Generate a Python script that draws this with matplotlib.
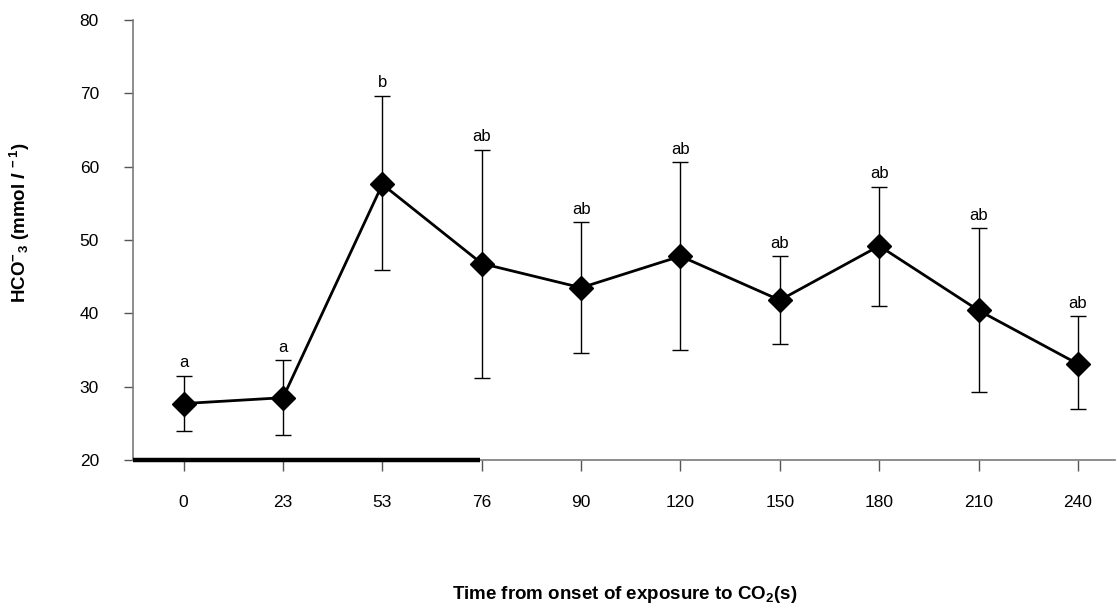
import matplotlib
matplotlib.use("Agg")
import matplotlib.pyplot as plt

plt.rcParams['font.family'] = ['Liberation Sans', 'DejaVu Sans']
plt.rcParams['mathtext.fontset'] = 'custom'
plt.rcParams['mathtext.rm'] = 'Liberation Sans:bold'
plt.rcParams['mathtext.it'] = 'Liberation Sans:bold:italic'
plt.rcParams['mathtext.bf'] = 'Liberation Sans:bold'

categories = ['0', '23', '53', '76', '90', '120', '150', '180', '210', '240']
means = [27.7, 28.5, 57.6, 46.8, 43.5, 47.8, 41.8, 49.2, 40.4, 33.1]
upper = [31.5, 33.6, 69.7, 62.3, 52.4, 60.6, 47.8, 57.3, 51.6, 39.6]
lower = [23.9, 23.4, 45.9, 31.2, 34.6, 35.0, 35.8, 41.0, 29.3, 26.9]
letters = ['a', 'a', 'b', 'ab', 'ab', 'ab', 'ab', 'ab', 'ab', 'ab']
exposure_end = '76'

fig = plt.figure(figsize=(11.17, 6.08), dpi=100)
ax = fig.add_axes([0.119, 0.2434, 0.879, 0.7236])

x = list(range(len(categories)))
yerr = [[m - l for m, l in zip(means, lower)], [u - m for m, u in zip(means, upper)]]
ax.errorbar(x, means, yerr=yerr, fmt='none', ecolor='black', elinewidth=1.0,
            capsize=6, capthick=1.0, zorder=2)
ax.plot(x, means, color='black', linewidth=2.0, marker='D', markersize=12.5,
        markerfacecolor='black', markeredgecolor='black', zorder=3)

for xi, u, lt in zip(x, upper, letters):
    ax.annotate(lt, (xi, u), xytext=(0, 4), textcoords='offset points',
                ha='center', va='bottom', fontsize=12)

ax.set_xlim(-0.51, 9.37)
ax.set_ylim(20, 80)
ax.set_yticks(range(20, 81, 10))
ax.set_xticks(x)
ax.set_xticklabels(categories)

# exposure bar
ax.plot([-0.51, categories.index(exposure_end) - 0.02], [20, 20], color='black',
        linewidth=3.2, solid_capstyle='butt', clip_on=False, zorder=4)

for s in ['top', 'right']:
    ax.spines[s].set_visible(False)
for s in ['left', 'bottom']:
    ax.spines[s].set_color('#7a7a7a')
    ax.spines[s].set_linewidth(1.2)

ax.tick_params(axis='y', direction='out', length=6.5, width=1, color='#555555',
               labelsize=12.5, pad=18)
ax.tick_params(axis='x', direction='out', length=8, width=1, color='#555555',
               labelsize=12.5, pad=17)

ax.set_ylabel(r'HCO$^{-}{}_{3}$ (mmol $\mathit{l}^{\,-1}$)', fontsize=13.5,
              fontweight='bold')
ax.yaxis.set_label_coords(-0.103, 0.539)
fig.text(0.559, 0.0214, r'Time from onset of exposure to CO$_{2}$(s)', ha='center',
         va='center', fontsize=13.5, fontweight='bold')

fig.savefig('out.png', dpi=100)
